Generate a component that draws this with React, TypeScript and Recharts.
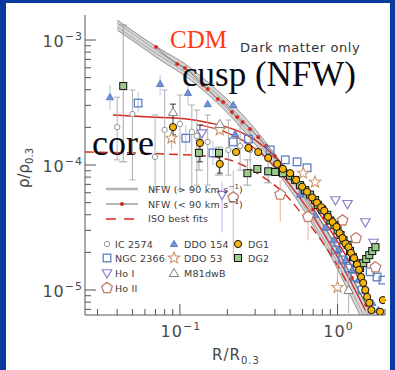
import React from "react";
import {
  ComposedChart,
  Area,
  Line,
  Scatter,
  ErrorBar,
  XAxis,
  YAxis,
} from "recharts";

/* ─── look ────────────────────────────────────────────────────────────── */
const W = 395;
const H = 370;
const BLUE = "#0a3a9c";
const FRAME = "#555";
const INK = "#3c3c3c";
const RED = "#d8261e";
const SANS = "'DejaVu Sans', Verdana, sans-serif";
const SERIF = "'Liberation Serif', 'Times New Roman', serif";

/* ─── axes (R/R0.3 and rho/rho0.3, both log) ──────────────────────────── */
const X_DOMAIN: [number, number] = [0.025, 2];
const Y_DOMAIN: [number, number] = [6.31e-6, 1.585e-3];
const X_TICKS = [0.03, 0.04, 0.05, 0.06, 0.07, 0.08, 0.09, 0.1, 0.2, 0.3, 0.4, 0.5, 0.6, 0.7, 0.8, 0.9, 1, 2];
const Y_TICKS = [
  7e-6, 8e-6, 9e-6, 1e-5, 2e-5, 3e-5, 4e-5, 5e-5, 6e-5, 7e-5, 8e-5, 9e-5,
  1e-4, 2e-4, 3e-4, 4e-4, 5e-4, 6e-4, 7e-4, 8e-4, 9e-4, 1e-3,
];

/* ─── model curves ────────────────────────────────────────────────────── */
// NFW (> 90 km/s): grey band of profiles
const BAND_R = [0.04, 0.056, 0.075, 0.108, 0.155, 0.224, 0.3, 0.4, 0.54, 0.72, 0.97, 1.29, 1.74];
const BAND_HI = [1.445e-3, 1.076e-3, 8.47e-4, 6.43e-4, 4.45e-4, 2.91e-4, 1.94e-4, 1.22e-4, 7.45e-5, 4.29e-5, 2.3e-5, 1.14e-5, 5.45e-6];
const BAND_M1 = [1.368e-3, 1.019e-3, 7.87e-4, 5.97e-4, 4.13e-4, 2.65e-4, 1.77e-4, 1.12e-4, 6.8e-5, 3.84e-5, 2.01e-5, 1.0e-5, 4.79e-6];
const BAND_M2 = [1.27e-3, 9.46e-4, 7.45e-4, 5.55e-4, 3.84e-4, 2.42e-4, 1.61e-4, 1.02e-4, 6.1e-5, 3.3e-5, 1.77e-5, 8.63e-6, 4.13e-6];
const BAND_LO = [1.202e-3, 8.95e-4, 6.92e-4, 5.15e-4, 3.56e-4, 2.25e-4, 1.47e-4, 9.29e-5, 5.5e-5, 3.08e-5, 1.58e-5, 7.6e-6, 3.6e-6];

// NFW (< 90 km/s): thin line with red dots
const NFW_LOW_R = [0.0706, 0.096, 0.1076, 0.14, 0.15, 0.174, 0.188, 0.214, 0.231, 0.25, 0.279, 0.314, 0.353, 0.4, 0.45, 0.515, 0.596, 0.7, 0.836, 1.015, 1.235, 1.52];
const NFW_LOW_RHO = [8.79e-4, 6.43e-4, 5.97e-4, 4.37e-4, 4.05e-4, 3.37e-4, 3.19e-4, 2.65e-4, 2.42e-4, 2.21e-4, 1.94e-4, 1.67e-4, 1.42e-4, 1.18e-4, 9.64e-5, 7.73e-5, 5.9e-5, 4.4e-5, 3.1e-5, 2.0e-5, 1.25e-5, 7.6e-6];

// red solid fits
const FIT_A_R = [0.0376, 0.0647, 0.1076, 0.155, 0.224, 0.3, 0.402, 0.538, 0.72, 0.97, 1.29, 1.66];
const FIT_A_RHO = [2.51e-4, 2.42e-4, 2.34e-4, 2.17e-4, 1.91e-4, 1.585e-4, 1.16e-4, 7.6e-5, 4.6e-5, 2.6e-5, 1.4e-5, 7.6e-6];
const FIT_B_R = [0.134, 0.193, 0.279, 0.374, 0.5, 0.67, 0.9, 1.2, 1.5];
const FIT_B_RHO = [2.09e-4, 1.84e-4, 1.445e-4, 1.06e-4, 6.9e-5, 4.2e-5, 2.3e-5, 1.2e-5, 6.9e-6];

// ISO best fit (dashed)
const ISO_R = [0.025, 0.0483, 0.0866, 0.144, 0.224, 0.323, 0.466, 0.67, 0.97, 1.29];
const ISO_RHO = [1.27e-4, 1.25e-4, 1.22e-4, 1.18e-4, 1.06e-4, 8.3e-5, 5.8e-5, 3.3e-5, 1.67e-5, 8.63e-6];

/* ─── galaxies: [R, rho, lower, upper] ────────────────────────────────── */
type P = number[];
const IC_2574: P[] = [
  [0.04, 2.01e-4, 1.1e-4, 3.49e-4], [0.05, 2.56e-4, 7.6e-5, 3.98e-4],
  [0.0696, 1.16e-4, 6.3e-5, 2.51e-4], [0.08, 1.91e-4, 6.7e-5, 3.98e-4],
  [0.1, 2.13e-4, 6.3e-5, 3.63e-4], [0.119, 1.84e-4, 6.3e-5, 3.02e-4],
  [0.128, 1.71e-4, 6.9e-5, 2.75e-4], [0.15, 1.53e-4, 6.9e-5, 2.51e-4],
  [0.203, 1.32e-4, 8.3e-5, 2.29e-4], [0.241, 1.42e-4, 9.1e-5, 2.09e-4],
  [0.279, 1.32e-4, 9.1e-5, 1.91e-4],
];
const NGC_2366: P[] = [
  [0.0543, 3.13e-4, 2.65e-4, 3.83e-4], [0.109, 1.64e-4, 1.27e-4, 2.09e-4],
  [0.162, 1.25e-4, 1.0e-4, 1.585e-4], [0.218, 1.53e-4], [0.272, 1.61e-4],
  [0.374, 1.32e-4], [0.466, 1.1e-4], [0.554, 1.06e-4], [0.641, 9.5e-5],
  [0.97, 2.1e-5], [1.076, 1.74e-5], [1.175, 1.5e-5], [1.29, 1.27e-5],
  [1.43, 1.0e-5], [1.61, 1.4e-5], [1.78, 1.27e-5], [1.94, 1.2e-5],
];
const HO_I: P[] = [
  [0.138, 1.8e-4], [0.185, 5.8e-5, 2.9e-5, 7.3e-5], [0.97, 5.25e-5],
  [1.157, 4.9e-5], [1.5, 3.5e-5], [1.69, 2.4e-5],
];
const HO_II: P[] = [
  [0.218, 5.5e-5, 1.74e-5, 9.1e-5], [0.433, 5.8e-5, 3.5e-5, 7.6e-5],
  [0.65, 3.85e-5, 2.5e-5, 5.25e-5], [1.076, 3.6e-5], [1.31, 2.6e-5], [1.74, 1.52e-5],
];
const DDO_154: P[] = [
  [0.036, 3.49e-4, 2.75e-4, 4.37e-4], [0.0749, 4.45e-4, 3.63e-4, 5.25e-4],
  [0.1124, 3.77e-4, 3.02e-4, 4.37e-4], [0.15, 3.07e-4], [0.218, 3.02e-4],
  [0.224, 1.77e-4], [0.579, 5.8e-5], [0.72, 4.0e-5], [0.836, 3.15e-5],
  [0.94, 2.5e-5], [1.015, 2.1e-5], [1.124, 1.74e-5], [1.235, 1.45e-5],
  [1.35, 1.2e-5], [1.5, 1.0e-5], [1.66, 7.9e-6], [1.81, 6.9e-6],
];
const DDO_53: P[] = [
  [0.0885, 1.64e-4, 1.32e-4, 2.09e-4], [0.179, 1.91e-4], [0.605, 8.6e-5],
  [0.72, 7.3e-5], [1.0, 1.05e-5, 6.5e-6, 1.74e-5],
];
const M81DWB: P[] = [
  [0.0904, 2.65e-4], [0.179, 2.13e-4], [1.175, 1.0e-5, 6.5e-6, 1.45e-5],
];
const DG1: P[] = [
  [0.0904, 2.01e-4, 1.74e-4, 3.07e-4], [0.134, 1.5e-4, 1.06e-4, 2.09e-4],
  [0.179, 1.02e-4, 8.6e-5, 1.16e-4], [0.227, 1.27e-4], [0.272, 1.37e-4],
  [0.314, 1.27e-4], [0.363, 1.14e-4], [0.414, 1.02e-4], [0.45, 9.3e-5],
  [0.5, 8.6e-5], [0.546, 7.6e-5], [0.596, 6.7e-5], [0.641, 6.1e-5],
  [0.69, 5.5e-5], [0.74, 5.0e-5], [0.787, 4.6e-5], [0.823, 4.3e-5],
  [0.87, 3.85e-5], [0.93, 3.5e-5], [0.985, 3.2e-5], [1.03, 2.85e-5],
  [1.076, 2.6e-5], [1.124, 2.35e-5], [1.175, 2.2e-5], [1.217, 1.98e-5],
  [1.272, 1.8e-5], [1.33, 1.6e-5], [1.37, 1.45e-5], [1.41, 1.27e-5],
  [1.455, 1.14e-5], [1.5, 1.0e-5], [1.54, 8.8e-6], [1.59, 7.9e-6],
  [1.64, 6.9e-6], [1.94, 8.3e-6], [1.86, 6.7e-6],
];
const DG2: P[] = [
  [0.0437, 4.28e-4, 1.06e-4, 1.318e-3], [0.132, 1.25e-4, 9.1e-5, 1.585e-4],
  [0.177, 1.25e-4, 8.3e-5, 1.39e-4], [0.268, 8.6e-5, 6.9e-5, 1.1e-4],
  [0.31, 9.3e-5], [0.363, 8.9e-5, 7.2e-5, 1.14e-4], [0.402, 8.8e-5],
  [0.45, 8.6e-5], [0.5, 8.2e-5], [0.538, 7.6e-5], [0.579, 6.9e-5],
  [0.623, 6.3e-5], [0.67, 5.8e-5], [0.72, 5.25e-5], [0.75, 4.8e-5],
  [0.8, 4.4e-5], [0.86, 4.0e-5], [0.9, 3.6e-5], [0.955, 3.3e-5],
  [1.0, 3.0e-5], [1.045, 2.75e-5], [1.092, 2.5e-5], [1.157, 2.3e-5],
  [1.2, 2.05e-5], [1.253, 1.83e-5], [1.33, 1.64e-5], [1.39, 1.5e-5],
  [1.455, 1.64e-5], [1.52, 1.77e-5], [1.59, 1.9e-5], [1.66, 2.05e-5],
  [1.74, 2.2e-5],
];

/* ─── helpers ─────────────────────────────────────────────────────────── */
const curve = (xs: number[], ys: number[]) => xs.map((x, i) => ({ x, y: ys[i] }));
const pts = (rows: P[]) =>
  rows.map(([x, y, lo, hi]) => ({
    x,
    y,
    e: lo ? [y - lo, hi - y] : [0, 0],
  }));

function polygon(cx: number, cy: number, n: number, r: number, rot: number, inner?: number) {
  const out: string[] = [];
  const k = inner ? n * 2 : n;
  for (let i = 0; i < k; i++) {
    const a = rot + (i * 2 * Math.PI) / k;
    const rr = inner && i % 2 ? inner : r;
    out.push(`${(cx + rr * Math.cos(a)).toFixed(2)},${(cy + rr * Math.sin(a)).toFixed(2)}`);
  }
  return out.join(" ");
}

const UP = -Math.PI / 2;
const MARK: Record<string, (cx: number, cy: number) => React.ReactElement> = {
  ic: (cx, cy) => <circle cx={cx} cy={cy} r={2.7} fill="#fff" stroke="#8a8a8a" strokeWidth={0.9} />,
  ngc: (cx, cy) => (
    <rect x={cx - 3.8} y={cy - 3.8} width={7.6} height={7.6} fill="none" stroke="#5d7fc2" strokeWidth={1.3} />
  ),
  hoI: (cx, cy) => (
    <polygon points={polygon(cx, cy - 0.5, 3, 5.5, Math.PI / 2)} fill="#fff" stroke="#8e7dcc" strokeWidth={1.2} />
  ),
  hoII: (cx, cy) => (
    <polygon points={polygon(cx, cy, 5, 5.6, UP)} fill="#fff" stroke="#c57e6c" strokeWidth={1.3} />
  ),
  ddo154: (cx, cy) => (
    <polygon points={polygon(cx, cy + 0.5, 3, 4.2, UP)} fill="#6f92d8" stroke="#4d6db2" strokeWidth={0.8} />
  ),
  ddo53: (cx, cy) => (
    <polygon points={polygon(cx, cy, 5, 6, UP, 2.6)} fill="#fff" stroke="#c6966e" strokeWidth={1.1} />
  ),
  m81: (cx, cy) => (
    <polygon points={polygon(cx, cy + 0.8, 3, 5.4, UP)} fill="#fff" stroke="#808080" strokeWidth={1} />
  ),
  dg1: (cx, cy) => <circle cx={cx} cy={cy} r={3.6} fill="#f6b40a" stroke="#111" strokeWidth={1} />,
  dg2: (cx, cy) => (
    <rect x={cx - 3.5} y={cy - 3.5} width={7} height={7} fill="#9ccc8c" stroke="#111" strokeWidth={1} />
  ),
};

const isMajor = (v: number) => Math.abs(Math.log10(v) - Math.round(Math.log10(v))) < 1e-6;
const expo = (v: number) => {
  const e = Math.round(Math.log10(v));
  return e < 0 ? `\u2212${-e}` : `${e}`;
};

/* ─── ticks (drawn inward on all four sides) ──────────────────────────── */
function BottomTick(p: any) {
  const v = p.payload.value;
  const m = isMajor(v);
  return (
    <g>
      <line x1={p.x} y1={p.y} x2={p.x} y2={p.y - (m ? 11 : 6)} stroke={FRAME} strokeWidth={1} />
      {m && (
        <text x={p.x + 1} y={p.y + 22} textAnchor="middle" fontFamily={SANS} fontSize={16} fill="#4a4a4a" letterSpacing={1}>
          10
          <tspan dy={-7} fontSize={11}>{expo(v)}</tspan>
        </text>
      )}
    </g>
  );
}
function TopTick(p: any) {
  const m = isMajor(p.payload.value);
  return <line x1={p.x} y1={p.y} x2={p.x} y2={p.y + (m ? 11 : 6)} stroke={FRAME} strokeWidth={1} />;
}
function LeftTick(p: any) {
  const v = p.payload.value;
  const m = isMajor(v);
  return (
    <g>
      <line x1={p.x} y1={p.y} x2={p.x + (m ? 11 : 6)} y2={p.y} stroke={FRAME} strokeWidth={1} />
      {m && (
        <text x={p.x - 2} y={p.y + 7} textAnchor="end" fontFamily={SANS} fontSize={16} fill="#4a4a4a" letterSpacing={1}>
          10
          <tspan dy={-7} fontSize={11}>{expo(v)}</tspan>
        </text>
      )}
    </g>
  );
}
function RightTick(p: any) {
  const m = isMajor(p.payload.value);
  return <line x1={p.x} y1={p.y} x2={p.x - (m ? 11 : 6)} y2={p.y} stroke={FRAME} strokeWidth={1} />;
}

/* ─── in-plot legend ──────────────────────────────────────────────────── */
const LEGEND_ITEMS: [string, string, number, number][] = [
  ["ic", "IC 2574", 0, 0], ["ddo154", "DDO 154", 1, 0], ["dg1", "DG1", 2, 0],
  ["ngc", "NGC 2366", 0, 1], ["ddo53", "DDO 53", 1, 1], ["dg2", "DG2", 2, 1],
  ["hoI", "Ho I", 0, 2], ["m81", "M81dwB", 1, 2],
  ["hoII", "Ho II", 0, 3],
];
const COL_X = [107, 174, 238];
const ROW_Y = [244, 258, 273, 288];

function Overlay() {
  const t = { fontFamily: SANS, fontSize: 9.5, fill: INK, letterSpacing: 0.2 } as const;
  return (
    <svg width={W} height={H} style={{ position: "absolute", left: 0, top: 0, pointerEvents: "none" }}>
      <text x={170} y={48} fontFamily={SERIF} fontSize={25} fill="#ff3a12">CDM</text>
      <text x={240} y={52} fontFamily={SANS} fontSize={13} fill="#333" letterSpacing={0.6}>Dark matter only</text>
      <text x={182} y={86} fontFamily={SERIF} fontSize={35} fill="#0a0a14">cusp (NFW)</text>
      <text x={92} y={155} fontFamily={SERIF} fontSize={36} fill="#0a0a14">core</text>

      <line x1={106} y1={189} x2={138} y2={189} stroke="#b4b4b4" strokeWidth={2.5} />
      <line x1={106} y1={204} x2={138} y2={204} stroke="#555" strokeWidth={0.9} />
      <circle cx={122} cy={204} r={2} fill={RED} />
      <line x1={106} y1={219} x2={136} y2={219} stroke={RED} strokeWidth={1.5} strokeDasharray="10 8" />
      <text x={148} y={193} {...t}>
        NFW (&gt; 90 km s<tspan dy={-4} fontSize={7}>−1</tspan><tspan dy={4}>)</tspan>
      </text>
      <text x={148} y={208} {...t}>
        NFW (&lt; 90 km s<tspan dy={-4} fontSize={7}>−1</tspan><tspan dy={4}>)</tspan>
      </text>
      <text x={148} y={222} {...t}>ISO best fits</text>

      {LEGEND_ITEMS.map(([k, label, c, r]) => (
        <g key={label}>
          {MARK[k](COL_X[c], ROW_Y[r])}
          <text x={COL_X[c] + (c === 0 ? 8 : 10)} y={ROW_Y[r] + 4} {...t}>{label}</text>
        </g>
      ))}

      <text transform="translate(29,168) rotate(-90)" textAnchor="middle" fontFamily={SANS} fontSize={15} fill="#444">
        ρ/ρ<tspan dy={4} fontSize={10}>0.3</tspan>
      </text>
      <text x={236} y={360} textAnchor="middle" fontFamily={SANS} fontSize={15} fill="#444" letterSpacing={1}>
        R/R<tspan dy={4} fontSize={10}>0.3</tspan>
      </text>
    </svg>
  );
}

/* ─── chart ───────────────────────────────────────────────────────────── */
const bandArea = BAND_R.map((x, i) => ({ x, y: [BAND_LO[i], BAND_HI[i]] }));
const BAND_LINES = [BAND_HI, BAND_M1, BAND_M2, BAND_LO];

const SERIES: { key: string; rows: P[]; bar: string; cap: number }[] = [
  { key: "ic", rows: IC_2574, bar: "#a8a8a8", cap: 3 },
  { key: "ngc", rows: NGC_2366, bar: "#a9bbe0", cap: 0 },
  { key: "ddo154", rows: DDO_154, bar: "#a9bbe0", cap: 0 },
  { key: "hoI", rows: HO_I, bar: "#b7abe0", cap: 0 },
  { key: "hoII", rows: HO_II, bar: "#eaa48c", cap: 0 },
  { key: "ddo53", rows: DDO_53, bar: "#eaa48c", cap: 0 },
  { key: "m81", rows: M81DWB, bar: "#a8a8a8", cap: 0 },
  { key: "dg2", rows: DG2, bar: "#9a9a9a", cap: 4 },
  { key: "dg1", rows: DG1, bar: "#222", cap: 3 },
];

export default function App() {
  return (
    <div style={{ position: "absolute", left: 0, top: 0, width: W, height: H, background: BLUE, overflow: "hidden" }}>
      <div style={{ position: "absolute", left: 6, top: 3, width: 384, height: 367, background: "#fff" }} />
      <div style={{ position: "absolute", left: 0, top: 0 }}>
        <ComposedChart width={W} height={H} margin={{ top: 15, right: 10, bottom: 0, left: 0 }}>
          <XAxis
            dataKey="x" type="number" scale="log" domain={X_DOMAIN} allowDataOverflow
            ticks={X_TICKS} interval={0} tickSize={0} tickMargin={0} tickLine={false}
            axisLine={{ stroke: FRAME }} tick={BottomTick} height={55}
          />
          <XAxis
            xAxisId="top" orientation="top" dataKey="x" type="number" scale="log" domain={X_DOMAIN}
            allowDataOverflow ticks={X_TICKS} interval={0} tickSize={0} tickMargin={0} tickLine={false}
            axisLine={{ stroke: FRAME }} tick={TopTick} height={0}
          />
          <YAxis
            dataKey="y" type="number" scale="log" domain={Y_DOMAIN} allowDataOverflow
            ticks={Y_TICKS} interval={0} tickSize={0} tickMargin={0} tickLine={false}
            axisLine={{ stroke: FRAME }} tick={LeftTick} width={85}
          />
          <YAxis
            yAxisId="right" orientation="right" dataKey="y" type="number" scale="log" domain={Y_DOMAIN}
            allowDataOverflow ticks={Y_TICKS} interval={0} tickSize={0} tickMargin={0} tickLine={false}
            axisLine={{ stroke: FRAME }} tick={RightTick} width={0}
          />

          <Area data={bandArea} dataKey="y" type="monotone" fill="#d6d6d6" fillOpacity={1} stroke="none" isAnimationActive={false} />
          {BAND_LINES.map((ys, i) => (
            <Line
              key={`band${i}`} data={curve(BAND_R, ys)} dataKey="y" type="monotone"
              stroke={i === 0 || i === 3 ? "#7a7a7a" : "#9c9c9c"} strokeWidth={0.8} dot={false} isAnimationActive={false}
            />
          ))}
          <Line data={curve(ISO_R, ISO_RHO)} dataKey="y" type="monotone" stroke={RED} strokeWidth={1.4} strokeDasharray="9 5" dot={false} isAnimationActive={false} />
          <Line data={curve(FIT_A_R, FIT_A_RHO)} dataKey="y" type="monotone" stroke={RED} strokeWidth={1.5} dot={false} isAnimationActive={false} />
          <Line data={curve(FIT_B_R, FIT_B_RHO)} dataKey="y" type="monotone" stroke={RED} strokeWidth={1.2} dot={false} isAnimationActive={false} />
          <Line
            data={curve(NFW_LOW_R, NFW_LOW_RHO)} dataKey="y" type="monotone" stroke="#555" strokeWidth={0.7}
            dot={{ r: 1.8, fill: RED, stroke: RED, strokeWidth: 0.4 }} isAnimationActive={false}
          />

          {SERIES.map((s) => (
            <Scatter
              key={s.key} data={pts(s.rows)} dataKey="y" isAnimationActive={false}
              shape={(p: any) => MARK[s.key](p.cx, p.cy)}
            >
              <ErrorBar dataKey="e" direction="y" width={s.cap} stroke={s.bar} strokeWidth={0.9} />
            </Scatter>
          ))}
        </ComposedChart>
      </div>
      <Overlay />
    </div>
  );
}
